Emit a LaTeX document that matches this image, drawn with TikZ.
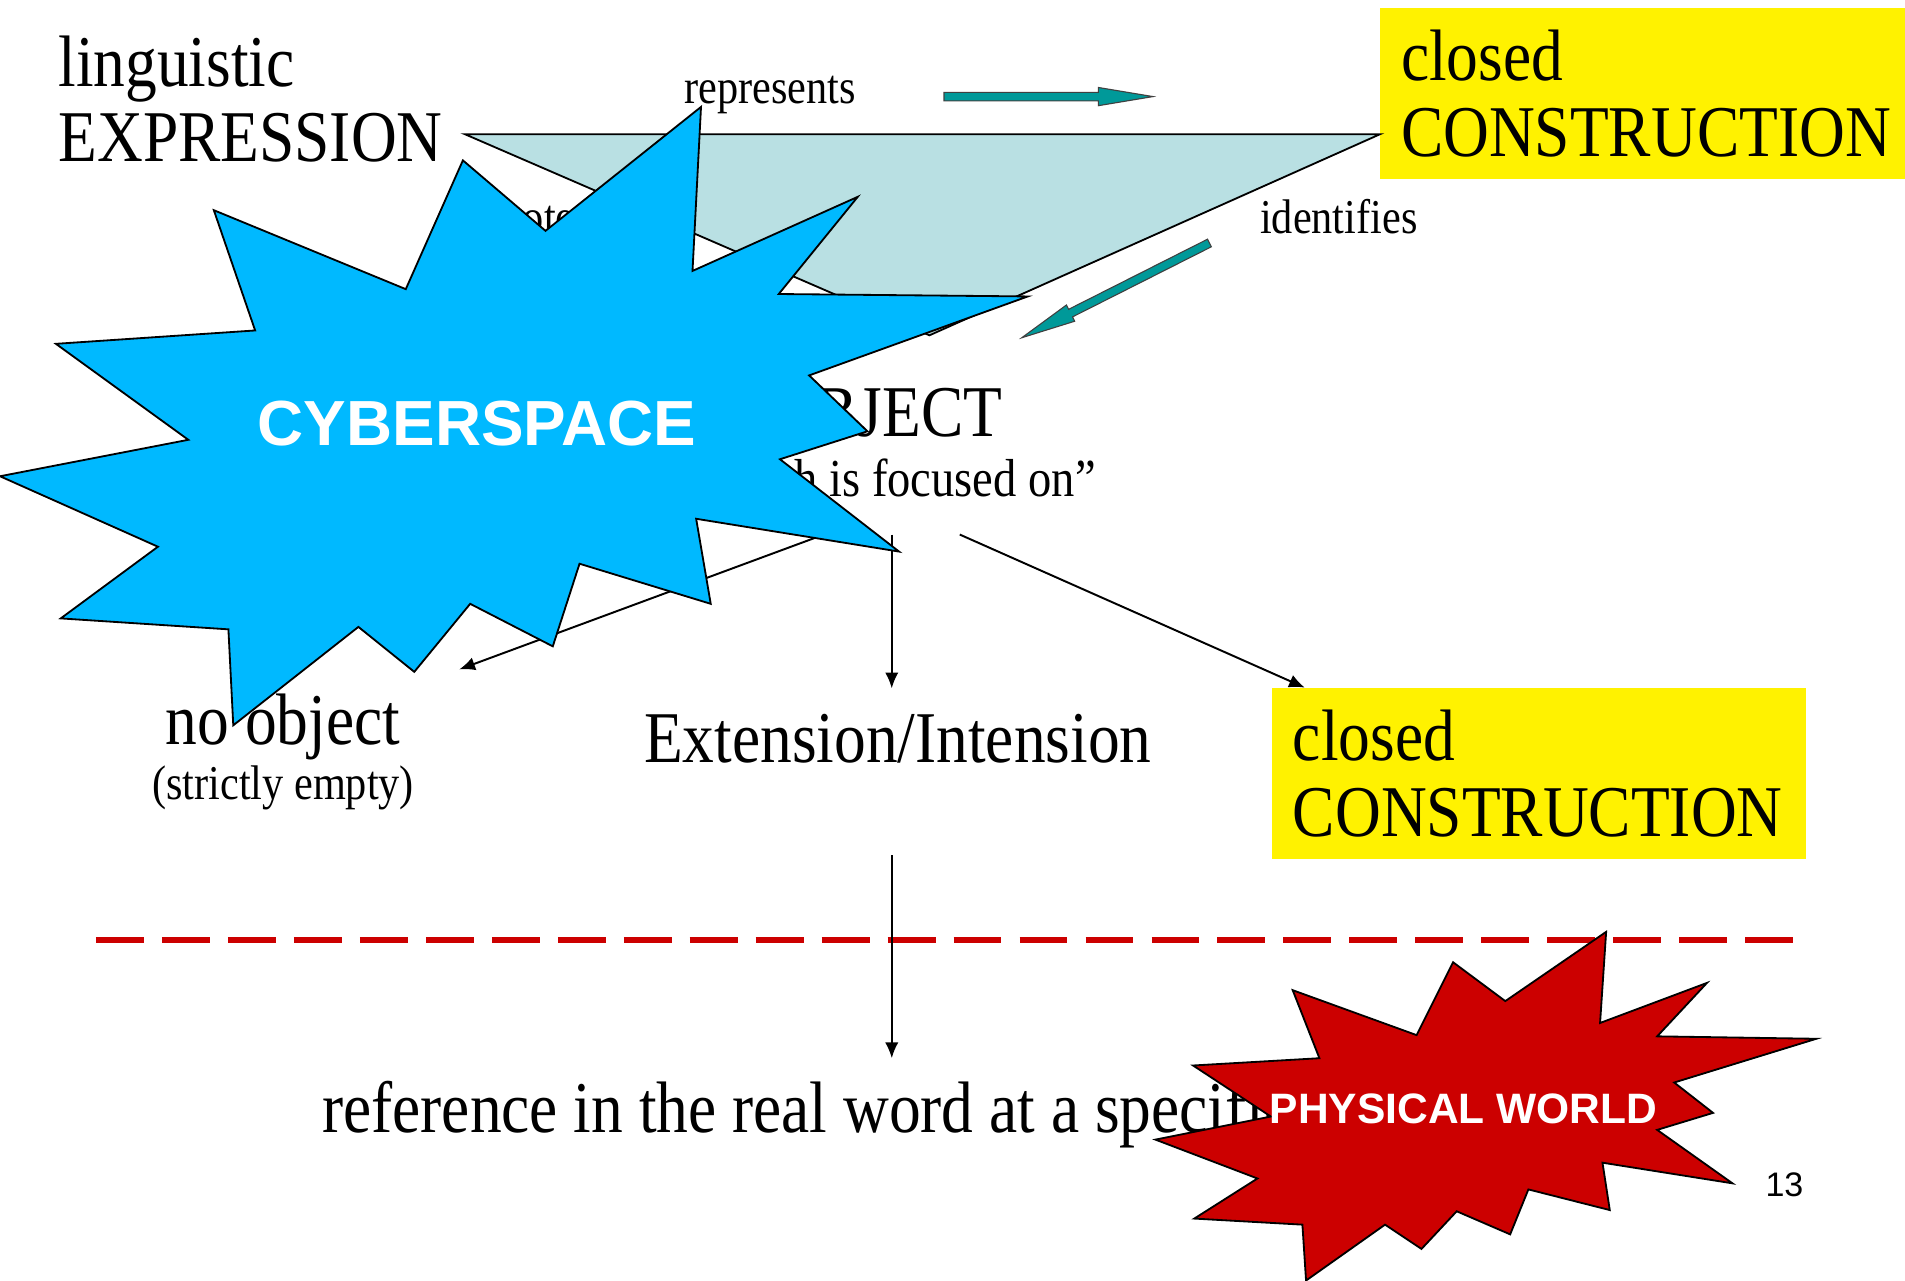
\documentclass[tikz,border=0pt]{standalone}
\usepackage{fontspec}
\setmainfont{Liberation Serif}[FakeStretch=0.87]
\newfontfamily\slidesans{Liberation Sans}
\usetikzlibrary{arrows.meta,calc}

\definecolor{planeblue}{RGB}{185,224,227}
\definecolor{cyberblue}{RGB}{0,185,255}
\definecolor{worldred}{RGB}{204,0,0}
\definecolor{arrowteal}{RGB}{0,153,153}

\tikzset{
  bigtxt/.style={font=\fontsize{60}{63}\selectfont, inner sep=0pt},
  smalltxt/.style={font=\fontsize{40}{44}\selectfont, inner sep=0pt},
  yellowbox/.style={bigtxt, fill=yellow, align=left, text width=405pt, inner xsep=17pt,
    minimum height=141pt, anchor=north west},
  conn/.style={line width=1.6pt, -{Latex[length=13pt,width=11pt]}},
  tealblock/.style={fill=arrowteal, draw=black!75, line width=0.9pt},
  starline/.style={draw=black, line width=1.5pt, line join=miter},
  startxt/.style={text=white, inner sep=0pt, anchor=base west}
}

\newcommand{\tealarrow}[2]{%
  \coordinate (hb) at ($(#2)!45pt!(#1)$);
  \draw[tealblock] ($(#1)!3.5pt!90:(#2)$) -- ($(hb)!3.5pt!90:(#2)$) -- ($(hb)!7.5pt!90:(#2)$) -- (#2)
    -- ($(hb)!7.5pt!-90:(#2)$) -- ($(hb)!3.5pt!-90:(#2)$) -- ($(#1)!3.5pt!-90:(#2)$) -- cycle;}

\begin{document}
\begin{tikzpicture}[x=1pt, y=-1pt]
  \useasboundingbox (0,0) rectangle (1568,1054);

  \node[bigtxt, anchor=base west] (ling) at (48,71) {linguistic};
  \node[bigtxt, anchor=base west] (expr) at (48,133) {EXPRESSION};
  \node[yellowbox] (cons1) at (1136,6.5) {closed\\CONSTRUCTION};

  \coordinate (apex) at (765,276);
  \coordinate (tl) at ([xshift=18pt,yshift=3pt]expr.east);
  \coordinate (tr) at (cons1.west |- tl);
  \draw[fill=planeblue, line width=1.5pt] (tl) -- (tr) -- (apex) -- cycle;

  \node[smalltxt, anchor=base west] (reptxt) at (563,85) {represents};
  \node[smalltxt, anchor=base west] (identxt) at (1037,192) {identifies};
  \node[smalltxt, anchor=base west] (dentxt) at (380,192) {denotes};

  \coordinate (repT) at (777,79.5);
  \coordinate (repH) at (949,79.5);
  \tealarrow{repT}{repH}
  \coordinate (idT) at (995.5,200);
  \coordinate (idH) at (841,278);
  \tealarrow{idT}{idH}

  \node[bigtxt, anchor=base east] (obj) at (825,359) {OBJECT};
  \node[font=\fontsize{44}{48}\selectfont, inner sep=0pt, anchor=base east] (focus) at (902,409)
    {“that which is focused on”};

  \node[bigtxt, anchor=base] (noobj) at (233,613) {no object};
  \node[smalltxt, anchor=base] (empty) at (233,658) {(strictly empty)};
  \node[bigtxt, anchor=base west] (extint) at (530,627.5) {Extension/Intension};
  \node[yellowbox] (cons2) at (1047,566) {closed\\CONSTRUCTION};

  \coordinate (objL) at (670,443);
  \coordinate (objM) at (734,440);
  \coordinate (objR) at (790,440);
  \coordinate (noobjTip) at (378,551);
  \draw[conn] (objL) -- (noobjTip);
  \draw[conn] (objM) -- ([yshift=21pt]objM |- extint.north);
  \draw[conn] (objR) -- ([xshift=27pt]cons2.north west);

  \draw[starline, fill=cyberblue] (577,88) -- (570,223) -- (706,162) -- (641,242) -- (846,244)
    -- (666,309) -- (714,355) -- (642,378) -- (740,454) -- (573,427) -- (585,497) -- (477,464)
    -- (455,532) -- (387,497) -- (341,553) -- (295,516) -- (192,597) -- (188,518) -- (50,509)
    -- (130,450) -- (0,392) -- (155,362) -- (46,283) -- (210,272) -- (176,173) -- (334,238)
    -- (381,132) -- (449,190) -- cycle;
  \node[startxt, font=\slidesans\bfseries\fontsize{52.5}{52.5}\selectfont] (cyber) at (212,367) {CYBERSPACE};

  \draw[worldred, line width=5pt, dash pattern=on 39.4pt off 14.9pt] (79,774) -- (1476,774);

  \node[bigtxt, anchor=base west] (refer) at (265,932) {reference in the real word at a specific time};
  \coordinate (extB) at (734,704);
  \coordinate (refT) at (734,871);
  \draw[conn] (extB) -- (refT);

  \draw[starline, fill=worldred] (1322,767) -- (1317,842) -- (1405,809) -- (1364,853) -- (1495,855)
    -- (1378,891) -- (1410,916) -- (1364,930) -- (1426,974) -- (1319,957) -- (1325,996)
    -- (1258,979) -- (1243,1016) -- (1199,997) -- (1170,1028) -- (1140,1008) -- (1075,1054)
    -- (1072,1008) -- (983,1003) -- (1035,970) -- (951,938) -- (1046,919) -- (982,877)
    -- (1086,871) -- (1064,815) -- (1166,852) -- (1196,792) -- (1239,824) -- cycle;
  \node[startxt, font=\slidesans\bfseries\fontsize{35}{35}\selectfont] (world) at (1045,925) {PHYSICAL WORLD};

  \node[font=\slidesans\fontsize{28}{28}\selectfont, inner sep=0pt, anchor=base west] (pagenum)
    at (1453,985) {13};
\end{tikzpicture}
\end{document}
